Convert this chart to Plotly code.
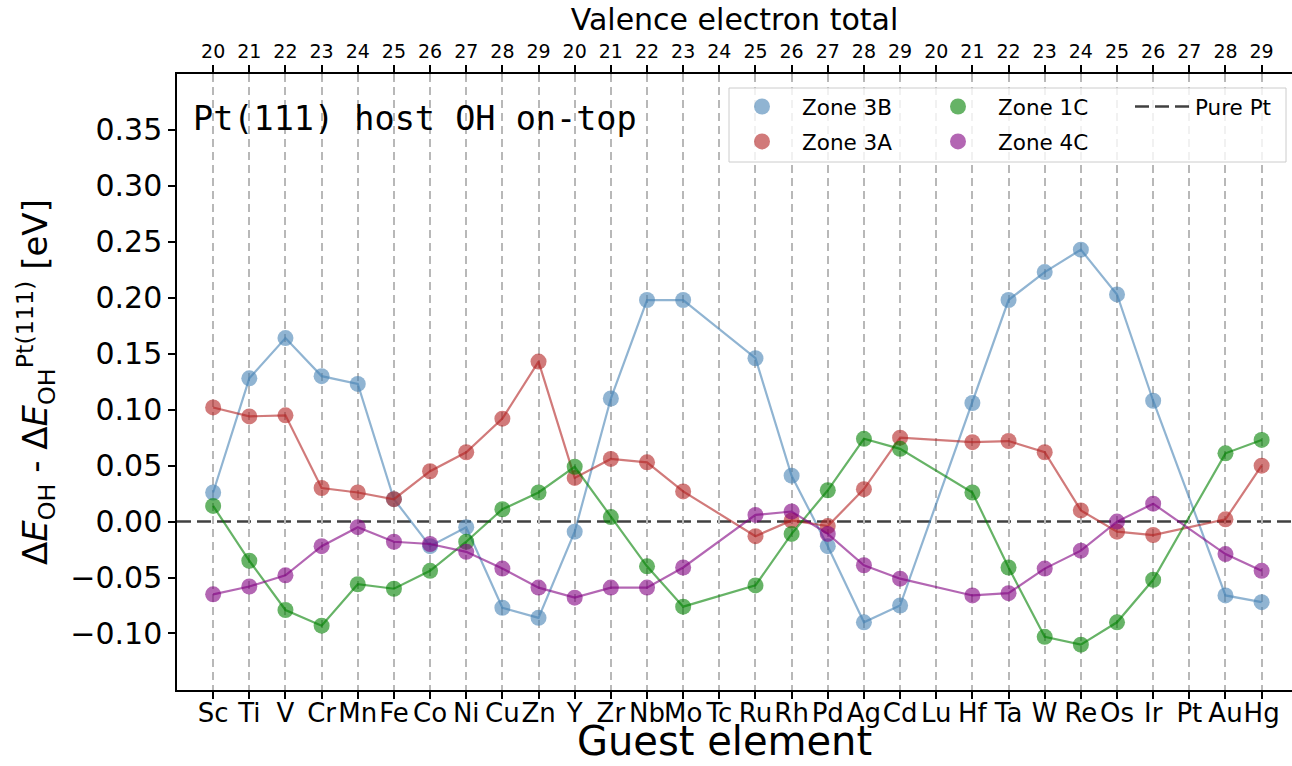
import plotly.graph_objects as go

# ---------------- data ----------------
ELEMENTS = ["Sc", "Ti", "V", "Cr", "Mn", "Fe", "Co", "Ni", "Cu", "Zn",
            "Y", "Zr", "Nb", "Mo", "Tc", "Ru", "Rh", "Pd", "Ag", "Cd",
            "Lu", "Hf", "Ta", "W", "Re", "Os", "Ir", "Pt", "Au", "Hg"]
VALENCE = ["20", "21", "22", "23", "24", "25", "26", "27", "28", "29",
           "20", "21", "22", "23", "24", "25", "26", "27", "28", "29",
           "20", "21", "22", "23", "24", "25", "26", "27", "28", "29"]

ZONE_3B = [0.026, 0.128, 0.164, 0.130, 0.123, 0.020, -0.022, -0.005, -0.077, -0.086,
           -0.009, 0.110, 0.198, 0.198, None, 0.146, 0.041, -0.022, -0.090, -0.075,
           None, 0.106, 0.198, 0.223, 0.243, 0.203, 0.108, None, -0.066, -0.072]
ZONE_3A = [0.102, 0.094, 0.095, 0.030, 0.026, 0.020, 0.045, 0.062, 0.092, 0.143,
           0.039, 0.056, 0.053, 0.027, None, -0.013, 0.001, -0.004, 0.029, 0.075,
           None, 0.071, 0.072, 0.062, 0.010, -0.009, -0.012, None, 0.002, 0.050]
ZONE_1C = [0.014, -0.035, -0.079, -0.093, -0.056, -0.060, -0.044, -0.018, 0.011, 0.026,
           0.049, 0.004, -0.040, -0.076, None, -0.057, -0.011, 0.028, 0.074, 0.065,
           None, 0.026, -0.041, -0.103, -0.110, -0.090, -0.052, None, 0.061, 0.073]
ZONE_4C = [-0.065, -0.058, -0.048, -0.022, -0.005, -0.018, -0.020, -0.027, -0.042, -0.059,
           -0.068, -0.059, -0.059, -0.041, None, 0.006, 0.009, -0.011, -0.039, -0.051,
           None, -0.066, -0.064, -0.042, -0.026, 0.000, 0.016, None, -0.029, -0.044]
PURE_PT = 0.0

Y_TICKS = [-0.10, -0.05, 0.00, 0.05, 0.10, 0.15, 0.20, 0.25, 0.30, 0.35]
Y_TICKTEXT = ["\u22120.10", "\u22120.05", "0.00", "0.05", "0.10", "0.15",
              "0.20", "0.25", "0.30", "0.35"]

X_RANGE = [-1, 29.84]
Y_RANGE = [-0.1505, 0.40]

SERIES = [
    ("Zone 3B", ZONE_3B, "70,130,180", "legend"),
    ("Zone 3A", ZONE_3A, "178,34,34", "legend"),
    ("Zone 1C", ZONE_1C, "0,128,0", "legend2"),
    ("Zone 4C", ZONE_4C, "128,0,128", "legend2"),
]
ALPHA = 0.6
FONT = "DejaVu Sans"

fig = go.Figure()
for name, vals, rgb, leg in SERIES:
    col = f"rgba({rgb},{ALPHA})"
    fig.add_trace(go.Scatter(
        x=ELEMENTS, y=vals, mode="lines", connectgaps=True,
        line=dict(color=col, width=2.2), showlegend=False, hoverinfo="skip"))
    fig.add_trace(go.Scatter(
        x=ELEMENTS, y=vals, mode="markers", name=name, legend=leg,
        legendgroup=name,
        marker=dict(color=col, size=16, line=dict(width=0))))

# invisible trace to carry the top axis
fig.add_trace(go.Scatter(x=ELEMENTS, y=[None] * len(ELEMENTS), xaxis="x2",
                         mode="markers", showlegend=False, hoverinfo="skip"))

# pure Pt reference line
fig.add_shape(type="line", xref="x domain", x0=0, x1=1, yref="y",
              y0=PURE_PT, y1=PURE_PT, layer="below",
              line=dict(color="rgba(0,0,0,0.75)", width=2.5, dash="14px,6px"),
              showlegend=True, name="Pure Pt", legend="legend3")

# layout geometry
W, H = 1292, 766
ML, MR, MT, MB = 177, 0, 74, 76
PW, PH = W - ML - MR, H - MT - MB


def px(xp):
    return (xp - ML) / PW


def py(yp):
    return (H - MB - yp) / PH


# legend frame
fig.add_shape(type="rect", xref="paper", yref="paper",
              x0=px(729), x1=px(1286), y0=py(162), y1=py(88), layer="above",
              fillcolor="rgba(255,255,255,0.8)",
              line=dict(color="#cccccc", width=1))

fig.add_annotation(text="Pt(111) host OH on-top", xref="paper", yref="paper",
                   x=px(191), y=py(119), xanchor="left", yanchor="middle",
                   showarrow=False,
                   font=dict(family="DejaVu Sans Mono", size=33.5, color="black"))

# bottom axis title
fig.add_annotation(text="Guest element", xref="paper", yref="paper",
                   x=px(724), y=py(765), xanchor="center", yanchor="bottom",
                   showarrow=False, borderpad=0,
                   font=dict(family=FONT, size=40, color="black"))

leg_common = dict(bgcolor="rgba(0,0,0,0)", borderwidth=0,
                  font=dict(family=FONT, size=21.5, color="black"),
                  orientation="v", xanchor="left", yanchor="top",
                  traceorder="grouped", tracegroupgap=4, itemwidth=70)

fig.update_layout(
    width=W, height=H,
    margin=dict(l=ML, r=MR, t=MT, b=MB, pad=0),
    plot_bgcolor="white", paper_bgcolor="white",
    font=dict(family=FONT, color="black"),
    legend=dict(x=px(722), y=py(86), **leg_common),
    legend2=dict(x=px(918), y=py(86), **leg_common),
    legend3=dict(x=px(1130), y=py(86), **{**leg_common, "itemwidth": 55}),
    xaxis=dict(
        type="category", categoryorder="array", categoryarray=ELEMENTS,
        range=X_RANGE, tickmode="array", tickvals=ELEMENTS, ticktext=ELEMENTS,
        tickangle=0, tickfont=dict(size=26, family=FONT),
        ticks="outside", ticklen=7, tickwidth=1.5, tickcolor="black",
        ticklabelstandoff=-8,
        showline=True, linecolor="black", linewidth=1.5, mirror=False,
        showgrid=True, gridcolor="#b8b8b8", gridwidth=2, griddash="8px,5px",
        zeroline=False,
    ),
    xaxis2=dict(
        type="category", categoryorder="array", categoryarray=ELEMENTS,
        overlaying="x", side="top", range=X_RANGE,
        tickmode="array", tickvals=ELEMENTS, ticktext=VALENCE, tickangle=0,
        tickfont=dict(size=19, family=FONT),
        ticks="outside", ticklen=7, tickwidth=1.5, tickcolor="black",
        showline=True, linecolor="black", linewidth=1.5, showgrid=False,
        title=dict(text="Valence electron total", font=dict(size=30, family=FONT),
                   standoff=0),
        zeroline=False,
    ),
    yaxis=dict(
        range=Y_RANGE, tickmode="array", tickvals=Y_TICKS, ticktext=Y_TICKTEXT,
        tickfont=dict(size=30, family=FONT),
        ticks="outside", ticklen=7, tickwidth=1.5, tickcolor="black",
        showline=True, linecolor="black", linewidth=1.5, mirror=False,
        showgrid=False, zeroline=False,
        title=dict(text="\u0394<i>E</i><sub>OH</sub> - \u0394<i>E</i><sub>OH</sub>"
                        "<sup>Pt(111)</sup> [eV]",
                   font=dict(size=34, family=FONT), standoff=12),
    ),
)

fig.write_html("out.html")
